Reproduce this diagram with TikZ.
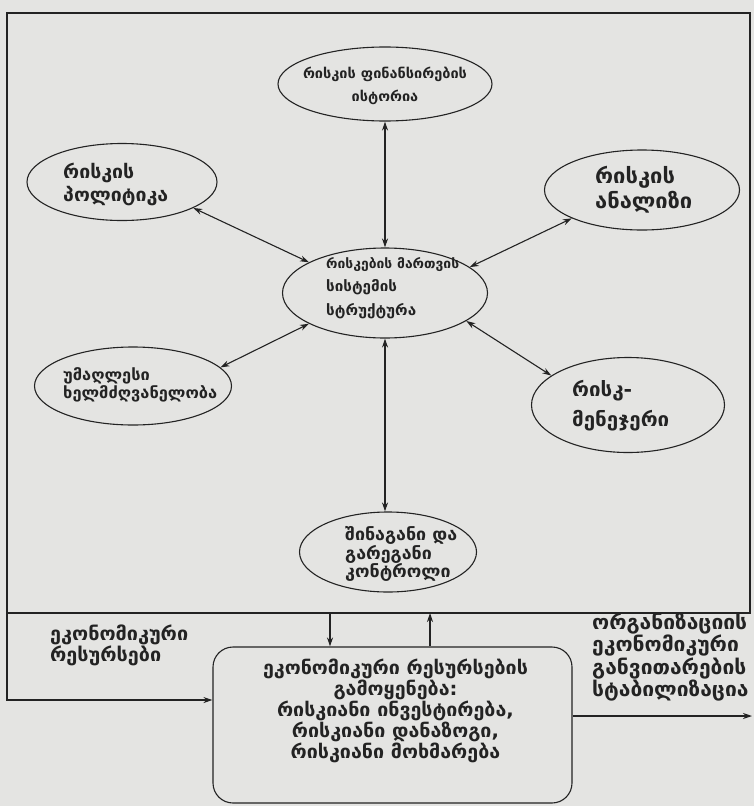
\documentclass[tikz,border=0pt]{standalone}
\usepackage{fontspec}
\setmainfont{DejaVu Sans}
\usetikzlibrary{shapes.geometric,arrows.meta}
\definecolor{paper}{RGB}{228,228,226}
\definecolor{ink}{RGB}{35,35,35}
\newlength{\gwd}
% #1 target width of sample line, #2 sample line, #3 horizontal stretch, #4 line distance
\newcommand{\fitfont}[4]{\bfseries\addfontfeatures{FakeStretch=#3}\fontsize{10pt}{12pt}\selectfont
  \settowidth{\gwd}{#2}\pgfmathsetmacro{\gfs}{10*#1/\gwd}\fontsize{\gfs pt}{#4pt}\selectfont}
\begin{document}
\begin{tikzpicture}[x=1pt,y=-1pt,
  ell/.style={ellipse,draw=ink,line width=1.1pt,inner sep=0pt},
  txt/.style={inner sep=0pt,text=ink,align=left,anchor=west},
  ctxt/.style={inner sep=0pt,text=ink,align=center},
  biarrow/.style={{Stealth[length=9pt,width=6pt]}-{Stealth[length=9pt,width=6pt]},line width=1.1pt,draw=ink},
  onearrow/.style={-{Stealth[length=9pt,width=6pt]},line width=1.1pt,draw=ink},
  frame/.style={line width=1.1pt,draw=ink}]
\fill[paper] (0,0) rectangle (754,806);
\useasboundingbox (0,0) rectangle (754,806);

% ellipses
\node[ell,minimum width=214pt,minimum height=74pt] (top) at (385,84) {};
\node[ctxt,font={\fitfont{164}{რისკის ფინანსირების}{1.05}{23}}] (topt) at (385,86) {რისკის ფინანსირების\\ისტორია};

\node[ell,minimum width=190pt,minimum height=77pt] (pol) at (122,182) {};
\node[txt,font={\fitfont{105}{პოლიტიკა}{1.05}{23}}] (polt) at (63,184) {რისკის\\პოლიტიკა};

\node[ell,minimum width=195pt,minimum height=80pt] (ana) at (642,190) {};
\node[txt,font={\fitfont{97}{ანალიზი}{1.05}{25}}] (anat) at (595,190) {რისკის\\ანალიზი};

\node[ell,minimum width=205pt,minimum height=90pt] (cen) at (385,293) {};
\node[txt,font={\fitfont{90}{სტრუქტურა}{1.05}{23.5}}] (cent) at (326,288) {{\fitfont{133}{რისკების მართვის}{1.05}{23.5}რისკების მართვის}\\სისტემის\\სტრუქტურა};

\node[ell,minimum width=197pt,minimum height=78pt] (lead) at (133,386) {};
\node[txt,font={\fitfont{154}{ხელმძღვანელობა}{1.05}{18}}] (leadt) at (63,385) {უმაღლესი\\ხელმძღვანელობა};

\node[ell,minimum width=193pt,minimum height=95pt] (man) at (628,405) {};
\node[txt,font={\fitfont{97}{მენეჯერი}{1.05}{30}}] (mant) at (572,406) {რისკ-\\მენეჯერი};

\node[ell,minimum width=177pt,minimum height=80pt] (ctrl) at (388,552) {};
\node[txt,font={\fitfont{112}{შინაგანი და}{1.05}{18.5}}] (ctrlt) at (345,554) {შინაგანი და\\გარეგანი\\კონტროლი};

% arrows between ellipses
\draw[biarrow] (top.south) -- (cen.north);
\draw[biarrow] (pol.-20) -- (cen.158);
\draw[biarrow] (ana.202) -- (cen.17);
\draw[biarrow] (lead.12) -- (cen.202);
\draw[biarrow] (man.159) -- (cen.-19);
\draw[biarrow] (cen.south) -- (cen.south |- ctrl.north);

% frame
\coordinate (fTL) at (7,13);
\coordinate (fTR) at (750,13);
\coordinate (fBR) at (750,613);
\coordinate (fBL) at (7,613);
\coordinate (inp) at (7,700);
\coordinate (outp) at (752,716);
\coordinate (downp) at (330,613);
\coordinate (upp) at (430,613);
\draw[frame] (fBL) -- (fTL) -- (fTR) -- (fBR) -- (fBL);

% bottom box
\node[draw=ink,line width=1.1pt,rounded corners=20pt,minimum width=359pt,minimum height=156pt,inner sep=0pt] (box) at (392.5,725) {};
\node[ctxt,font={\fitfont{265}{ეკონომიკური რესურსების}{1.05}{19.5}}] (boxt) at (395.5,711) {ეკონომიკური რესურსების\\გამოყენება:\\რისკიანი ინვესტირება,\\რისკიანი დანაზოგი,\\რისკიანი მოხმარება};

\draw[onearrow] (fBL) -- (inp) -- (inp -| box.west);
\draw[onearrow] (downp) -- (downp |- box.north);
\draw[onearrow] (upp |- box.north) -- (upp);
\draw[onearrow] (outp -| box.east) -- (outp);

% side labels
\node[txt,font={\fitfont{138}{ეკონომიკური}{1.05}{16.5}}] (lres) at (50,645) {ეკონომიკური\\რესურსები};
\node[txt,font={\fitfont{155}{ორგანიზაციის}{1.05}{17}}] (rstab) at (592,657) {ორგანიზაციის\\ეკონომიკური\\განვითარების\\სტაბილიზაცია};
\end{tikzpicture}
\end{document}
